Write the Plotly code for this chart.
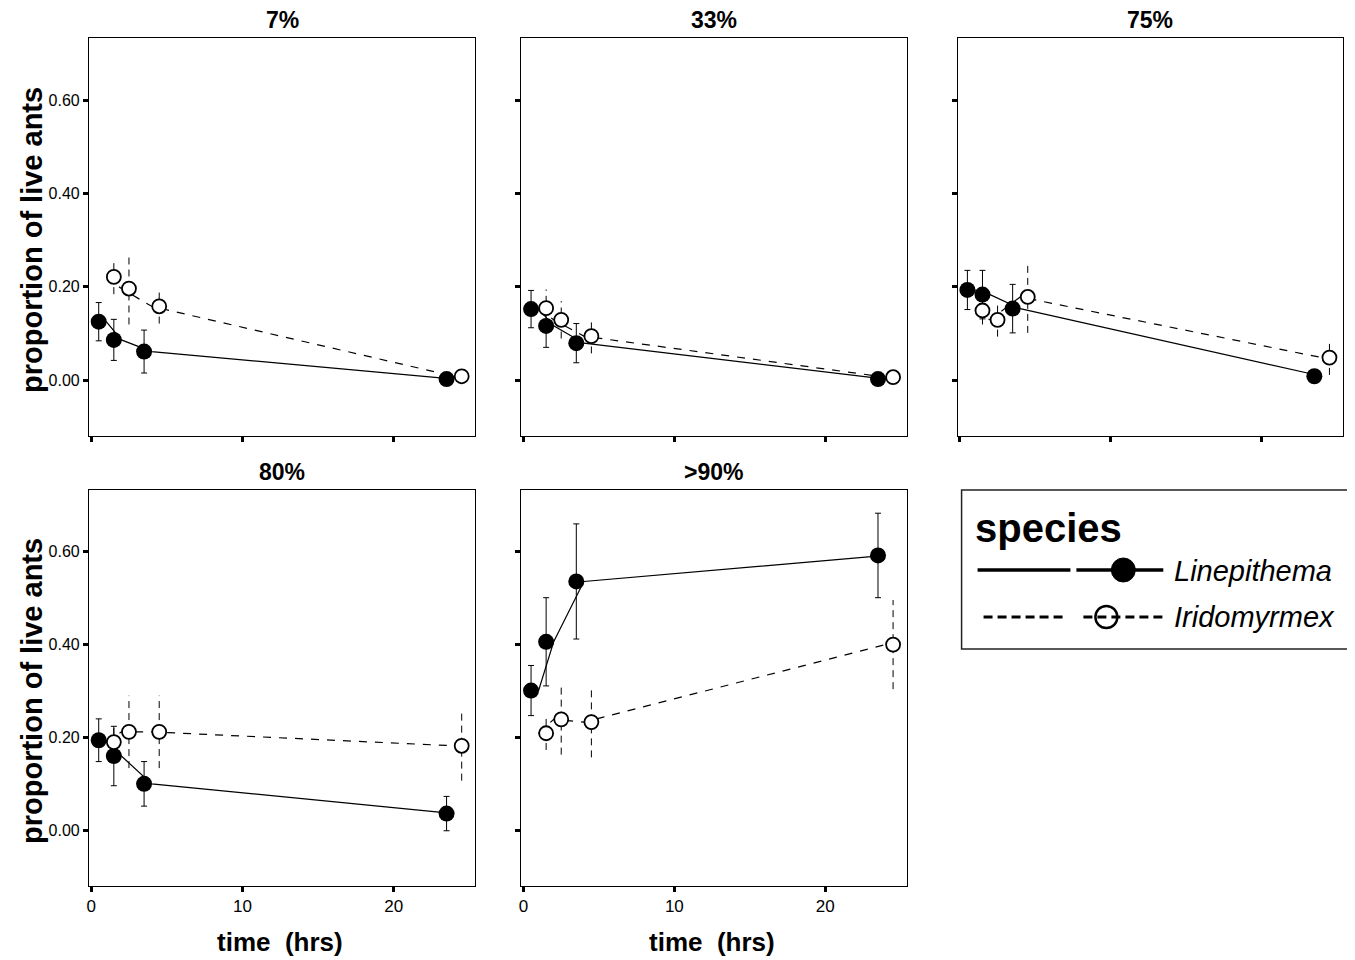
import plotly.graph_objects as go

# page body has an 8px margin; the figure is sized to fit the remaining window
OFF = 8
W, H = 1355 - OFF, 960 - OFF

# ---------------- data ----------------
times = [1, 2, 4, 24]
panels = ["7%", "33%", "75%", "80%", ">90%"]

lin_mean = {
    "7%":   [0.125, 0.086, 0.061, 0.002],
    "33%":  [0.152, 0.116, 0.079, 0.002],
    "75%":  [0.193, 0.183, 0.153, 0.008],
    "80%":  [0.194, 0.160, 0.100, 0.036],
    ">90%": [0.301, 0.406, 0.536, 0.592],
}
lin_err = {
    "7%":   [0.041, 0.044, 0.046, None],
    "33%":  [0.040, 0.046, 0.042, None],
    "75%":  [0.042, 0.052, 0.052, None],
    "80%":  [0.046, 0.064, 0.048, 0.037],
    ">90%": [0.054, 0.095, 0.124, 0.091],
}
iri_mean = {
    "7%":   [0.221, 0.196, 0.158, 0.008],
    "33%":  [0.154, 0.129, 0.094, 0.006],
    "75%":  [0.149, 0.129, 0.178, 0.048],
    "80%":  [0.190, 0.212, 0.212, 0.182],
    ">90%": [0.209, 0.239, 0.233, 0.400],
}
iri_err = {
    "7%":   [0.037, 0.077, 0.037, None],
    "33%":  [0.040, 0.040, 0.037, None],
    "75%":  [0.030, 0.036, 0.077, 0.037],
    "80%":  [0.036, 0.078, 0.078, 0.075],
    ">90%": [0.036, 0.076, 0.076, 0.096],
}
dodge = 0.5  # horizontal offset of the two species' markers

x_ticks = [0, 10, 20]
y_ticks = [0.0, 0.2, 0.4, 0.6]
y_ticktext = ["0.00", "0.20", "0.40", "0.60"]

# ---------------- layout helpers (window pixels -> paper) ----------------
def px_x(p):
    return (p - OFF) / W

def px_y(p):
    return 1 - (p - OFF) / H

col_dom = [(87, 474), (520, 906), (957, 1343)]
row_dom = [(38, 436), (490, 886)]
grid = [(0, 0), (0, 1), (0, 2), (1, 0), (1, 1)]

FONT = "Liberation Sans, Arial, Helvetica, sans-serif"
fig = go.Figure()
layout = {}
annotations = []
shapes = []

for i, name in enumerate(panels):
    r, c = grid[i]
    sfx = "" if i == 0 else str(i + 1)
    xref, yref = "x" + sfx, "y" + sfx

    fig.add_trace(go.Scatter(x=times, y=lin_mean[name], mode="lines",
                             line=dict(color="black", width=1.2),
                             xaxis=xref, yaxis=yref, showlegend=False, hoverinfo="skip"))
    fig.add_trace(go.Scatter(x=times, y=iri_mean[name], mode="lines",
                             line=dict(color="black", width=1.2, dash="8px,8px"),
                             xaxis=xref, yaxis=yref, showlegend=False, hoverinfo="skip"))
    ex, ey = [], []
    for t, m, e in zip(times, iri_mean[name], iri_err[name]):
        if e is None:
            continue
        ex += [t + dodge, t + dodge, None]
        ey += [m - e, m + e, None]
    fig.add_trace(go.Scatter(x=ex, y=ey, mode="lines",
                             line=dict(color="black", width=1, dash="7px,5px"),
                             xaxis=xref, yaxis=yref, showlegend=False, hoverinfo="skip"))
    fig.add_trace(go.Scatter(x=[t - dodge for t in times], y=lin_mean[name], mode="markers",
                             marker=dict(color="black", size=16, line=dict(width=0)),
                             error_y=dict(type="data", array=lin_err[name], visible=True,
                                          color="black", thickness=1, width=3),
                             xaxis=xref, yaxis=yref, showlegend=False))
    fig.add_trace(go.Scatter(x=[t + dodge for t in times], y=iri_mean[name], mode="markers",
                             marker=dict(color="white", size=14, line=dict(color="black", width=1.8)),
                             xaxis=xref, yaxis=yref, showlegend=False))

    layout["xaxis" + sfx] = dict(
        domain=[px_x(col_dom[c][0]), px_x(col_dom[c][1])], anchor=yref,
        range=[-0.15, 25.4], tickvals=x_ticks, ticks="outside", ticklen=5, tickwidth=3,
        tickcolor="black", showline=True, mirror=True, linecolor="black", linewidth=1,
        showgrid=False, zeroline=False, showticklabels=(r == 1),
        tickfont=dict(family=FONT, size=17, color="black"))
    layout["yaxis" + sfx] = dict(
        domain=[px_y(row_dom[r][1]), px_y(row_dom[r][0])], anchor=xref,
        range=[-0.12, 0.733], tickvals=y_ticks, ticktext=y_ticktext, ticks="outside",
        ticklen=5, tickwidth=3, tickcolor="black", showline=True, mirror=True,
        linecolor="black", linewidth=1, showgrid=False, zeroline=False,
        showticklabels=(c == 0), tickfont=dict(family=FONT, size=16, color="black"))

    annotations.append(dict(text="<b>%s</b>" % name.replace(">", "&gt;"), xref="paper", yref="paper",
                            x=px_x((col_dom[c][0] + col_dom[c][1]) / 2),
                            y=px_y(row_dom[r][0] - 18), xanchor="center", yanchor="middle",
                            showarrow=False, font=dict(family=FONT, size=23, color="black")))

for r in range(2):
    annotations.append(dict(text="<b>proportion of live ants</b>", xref="paper", yref="paper",
                            x=px_x(30), y=px_y((row_dom[r][0] + row_dom[r][1]) / 2 + 3),
                            textangle=-90, xanchor="center", yanchor="middle", showarrow=False,
                            font=dict(family=FONT, size=29, color="black")))
for c in range(2):
    annotations.append(dict(text="<b>time  (hrs)</b>", xref="paper", yref="paper",
                            x=px_x((col_dom[c][0] + col_dom[c][1]) / 2 - 2), y=px_y(942),
                            xanchor="center", yanchor="middle", showarrow=False,
                            font=dict(family=FONT, size=26, color="black")))

# ---------------- legend (drawn) ----------------
shapes.append(dict(type="rect", xref="paper", yref="paper",
                   x0=px_x(961), x1=px_x(1350), y0=px_y(649), y1=px_y(490),
                   line=dict(color="#222", width=1.5), fillcolor="white", layer="below"))
annotations.append(dict(text="<b>species</b>", xref="paper", yref="paper",
                        x=px_x(972), y=px_y(528), xanchor="left", yanchor="middle",
                        showarrow=False, font=dict(family=FONT, size=40, color="black")))
for a, b in [(977, 1070), (1076, 1163)]:
    shapes.append(dict(type="line", xref="paper", yref="paper", x0=px_x(a), x1=px_x(b),
                       y0=px_y(570), y1=px_y(570), line=dict(color="black", width=3.5)))
shapes.append(dict(type="circle", xref="paper", yref="paper",
                   x0=px_x(1111), x1=px_x(1135), y0=px_y(582), y1=px_y(558),
                   fillcolor="black", line=dict(color="black", width=1)))
for a, b in [(983, 1065), (1083, 1163)]:
    shapes.append(dict(type="line", xref="paper", yref="paper", x0=px_x(a), x1=px_x(b),
                       y0=px_y(617), y1=px_y(617), line=dict(color="black", width=3, dash="9px,5px")))
shapes.append(dict(type="circle", xref="paper", yref="paper",
                   x0=px_x(1095), x1=px_x(1117), y0=px_y(628), y1=px_y(606),
                   fillcolor="rgba(0,0,0,0)", line=dict(color="black", width=2.5)))
annotations.append(dict(text="<i>Linepithema</i>", xref="paper", yref="paper",
                        x=px_x(1172), y=px_y(571), xanchor="left", yanchor="middle",
                        showarrow=False, font=dict(family=FONT, size=29, color="black")))
annotations.append(dict(text="<i>Iridomyrmex</i>", xref="paper", yref="paper",
                        x=px_x(1172), y=px_y(617), xanchor="left", yanchor="middle",
                        showarrow=False, font=dict(family=FONT, size=29, color="black")))

fig.update_layout(**layout)
fig.update_layout(width=W, height=H, margin=dict(l=0, r=0, t=0, b=0),
                  paper_bgcolor="white", plot_bgcolor="white",
                  annotations=annotations, shapes=shapes, showlegend=False,
                  font=dict(family=FONT, color="black"))
fig.write_html("out.html")
